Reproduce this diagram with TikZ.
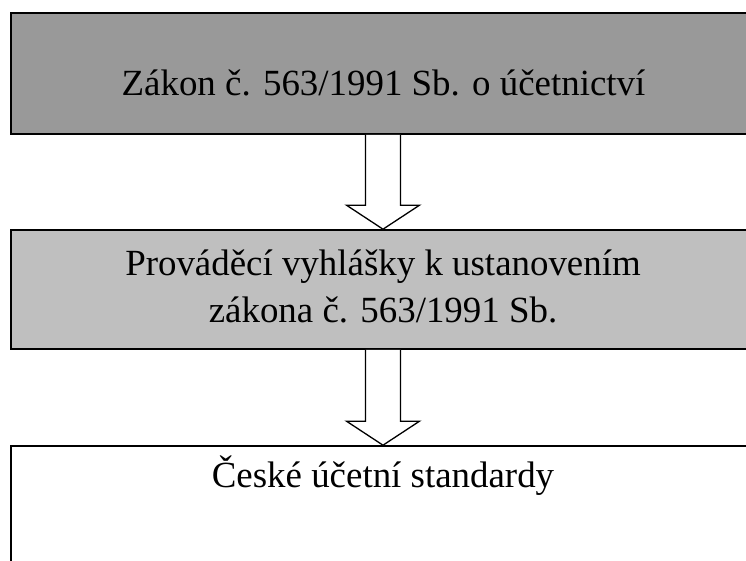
\documentclass[tikz,border=0pt]{standalone}
\usepackage{fontspec}
\setmainfont{Liberation Serif}
\usetikzlibrary{calc}

\tikzset{
  box/.style={draw=black,line width=1.6pt,minimum width=744pt,inner sep=0pt},
  napis/.style={font=\fontsize{36.9}{47}\selectfont,align=center,anchor=base,inner sep=0pt},
  sipka/.style={draw=black,fill=white,line width=1.3pt,line join=miter}
}

% hollow block arrow from the bottom of #1 to the top of #2
\newcommand{\dolu}[2]{%
  \draw[sipka] ($(#1.south)+(-17.5,0)$) -- ($(#2.north)+(-17.5,-24)$)
    -- ($(#2.north)+(-36.5,-24)$) -- (#2.north) -- ($(#2.north)+(36.5,-24)$)
    -- ($(#2.north)+(17.5,-24)$) -- ($(#1.south)+(17.5,0)$);}

\begin{document}
\begin{tikzpicture}[x=1pt,y=-1pt]
  \useasboundingbox (0,0) rectangle (746,561);
  \clip (0,0) rectangle (746,561);

  % Boxes
  \node[box,fill=black!40,minimum height=121pt] (zakon) at (383,73.5) {};
  \node[box,fill=black!25,minimum height=119pt] (vyhlasky) at (383,289.5) {};
  \node[box,fill=white,minimum height=160pt] (standardy) at (383,526) {};

  % Texts
  \node[napis] (t1) at (383.5,96) {Zákon č. 563/1991 Sb. o účetnictví};
  \node[napis] (t2) at (383,322) {Prováděcí vyhlášky k ustanovením\\zákona č. 563/1991 Sb.};
  \node[napis] (t3) at (383,487) {České účetní standardy};

  % Arrows
  \dolu{zakon}{vyhlasky}
  \dolu{vyhlasky}{standardy}
\end{tikzpicture}
\end{document}
